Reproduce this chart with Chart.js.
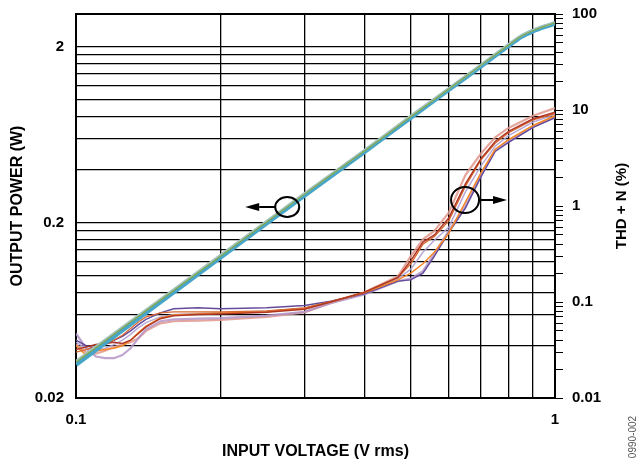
<!DOCTYPE html>
<html>
<head>
<meta charset="utf-8">
<title>Output Power and THD + N vs Input Voltage</title>
<script src="https://cdn.jsdelivr.net/npm/chart.js@4.4.0/dist/chart.umd.min.js"></script>
<style>
  html, body { margin: 0; padding: 0; background: #fff; }
  #wrap { width: 638px; height: 463px; }
</style>
</head>
<body>
<div id="wrap"><canvas id="chart" width="638" height="463"></canvas></div>
<script>
// output power (W)
const powerVoltage = [0.1, 0.2, 0.3, 0.4, 0.5, 0.6, 0.7, 0.8, 0.85, 0.9, 0.95, 1.0];
const powerA = [0.032, 0.128, 0.290, 0.510, 0.800, 1.150, 1.570, 2.050, 2.300, 2.480, 2.620, 2.740];
const powerB = [0.031, 0.126, 0.285, 0.505, 0.790, 1.140, 1.550, 2.030, 2.280, 2.460, 2.600, 2.720];
const powerC = [0.0325, 0.130, 0.293, 0.515, 0.810, 1.160, 1.580, 2.070, 2.320, 2.500, 2.640, 2.760];

// THD + N (%)
const thdVoltage = [0.1, 0.105, 0.11, 0.115, 0.12, 0.125, 0.13, 0.135, 0.14, 0.15, 0.16, 0.18, 0.2, 0.25,
                    0.3, 0.34, 0.4, 0.47, 0.5, 0.53, 0.56, 0.6, 0.65, 0.7, 0.75, 0.8, 0.9, 1.0];
const thdRed = [0.032, 0.034, 0.036, 0.037, 0.038, 0.037, 0.040, 0.047, 0.055, 0.067, 0.072, 0.074, 0.075, 0.078,
                0.084, 0.100, 0.126, 0.180, 0.270, 0.420, 0.500, 0.750, 1.700, 3.100, 4.700, 6.000, 8.100, 9.500];
const thdSalmon = [0.036, 0.030, 0.029, 0.031, 0.034, 0.036, 0.038, 0.042, 0.050, 0.060, 0.063, 0.064, 0.065, 0.070,
                   0.078, 0.098, 0.126, 0.185, 0.300, 0.450, 0.550, 0.850, 2.100, 3.500, 5.200, 6.500, 8.700, 10.50];
const thdLilac = [0.038, 0.033, 0.031, 0.033, 0.036, 0.040, 0.046, 0.054, 0.061, 0.070, 0.074, 0.076, 0.077, 0.080,
                  0.086, 0.100, 0.124, 0.175, 0.220, 0.330, 0.440, 0.600, 1.400, 2.600, 4.200, 5.400, 7.500, 9.000];
const thdOrange = [0.035, 0.028, 0.031, 0.032, 0.033, 0.035, 0.040, 0.048, 0.056, 0.068, 0.073, 0.075, 0.077, 0.079,
                   0.086, 0.100, 0.125, 0.170, 0.200, 0.250, 0.330, 0.520, 1.100, 2.200, 3.900, 4.900, 6.900, 8.700];
const thdPurple = [0.040, 0.035, 0.033, 0.036, 0.040, 0.044, 0.050, 0.058, 0.066, 0.077, 0.085, 0.087, 0.085, 0.087,
                   0.092, 0.102, 0.122, 0.165, 0.170, 0.200, 0.300, 0.530, 0.950, 2.000, 3.700, 4.600, 6.600, 8.300];
const thdRust = [0.030, 0.032, 0.034, 0.036, 0.040, 0.045, 0.053, 0.062, 0.070, 0.077, 0.079, 0.079, 0.079, 0.081,
                 0.087, 0.101, 0.127, 0.180, 0.250, 0.400, 0.480, 0.700, 1.600, 3.000, 4.500, 5.800, 7.900, 9.200];
const thdLavender = [0.047, 0.033, 0.027, 0.026, 0.026, 0.028, 0.033, 0.042, 0.052, 0.063, 0.066, 0.067, 0.068, 0.072,
                     0.079, 0.097, 0.120, 0.165, 0.175, 0.210, 0.320, 0.550, 1.000, 2.100, 3.800, 4.700, 6.700, 8.400];

// axes
const xGridValues = [0.1, 0.2, 0.3, 0.4, 0.5, 0.6, 0.7, 0.8, 0.9, 1];
const xLabels = [0.1, 1];
const leftGridValues = [0.02, 0.04, 0.06, 0.08, 0.1, 0.12, 0.14, 0.16, 0.18, 0.2,
                        0.4, 0.6, 0.8, 1, 1.2, 1.4, 1.6, 1.8, 2];
const leftLabels = [0.02, 0.2, 2];
const rightLabels = [0.01, 0.1, 1, 10, 100];
const rightSteps = [1, 2, 3, 4, 5, 6, 7, 8, 9];

// circle + arrow markers: which axis the curve belongs to
const markers = [
    { x: 0.276, y: 0.245, axis: 'yL', tipX: 0.2255 },
    { x: 0.649, y: 1.155, axis: 'yR', tipX: 0.794 }
];

const FONT = '"Liberation Sans", Arial, Helvetica, sans-serif';

function pairs(xs, ys) {
    return xs.map((x, i) => ({ x: x, y: ys[i] }));
}

let rightTickValues = [];
for (let i = 0; i < rightLabels.length - 1; i++) {
    for (let j = 0; j < rightSteps.length; j++) {
        rightTickValues.push(+(rightLabels[i] * rightSteps[j]).toPrecision(3));
    }
}
rightTickValues.push(rightLabels[rightLabels.length - 1]);

function powerSet(values, color, width) {
    return {
        data: pairs(powerVoltage, values), yAxisID: 'yL',
        borderColor: color, borderWidth: width,
        pointRadius: 0, tension: 0.2, fill: false
    };
}

function thdSet(values, color, width) {
    return {
        data: pairs(thdVoltage, values), yAxisID: 'yR',
        borderColor: color, borderWidth: width,
        pointRadius: 0, tension: 0, fill: false
    };
}

const data = {
    datasets: [
        powerSet(powerA, 'rgb(125, 165, 75)', 1.2),
        powerSet(powerC, 'rgb(165, 195, 190)', 2.5),
        powerSet(powerB, 'rgb(70, 165, 200)', 4.5),
        thdSet(thdRed, 'rgb(175, 55, 35)', 1.5),
        thdSet(thdRust, 'rgb(215, 105, 50)', 1.3),
        thdSet(thdOrange, 'rgb(245, 135, 40)', 1.5),
        thdSet(thdPurple, 'rgb(100, 75, 155)', 1.5),
        thdSet(thdLilac, 'rgba(175, 160, 210, 0.9)', 1.5),
        thdSet(thdLavender, 'rgba(180, 150, 200, 0.85)', 2.2),
        thdSet(thdSalmon, 'rgba(225, 150, 140, 0.85)', 2.2)
    ]
};

const extras = {
    id: 'extras',
    beforeDatasetsDraw: (chart) => {
        const ctx = chart.ctx;
        const a = chart.chartArea;
        ctx.save();
        ctx.strokeStyle = '#000';
        ctx.lineWidth = 2;
        ctx.strokeRect(a.left, a.top, a.right - a.left, a.bottom - a.top);
        ctx.restore();
    },
    afterDatasetsDraw: (chart) => {
        const ctx = chart.ctx;
        const xs = chart.scales.x;
        ctx.save();
        ctx.strokeStyle = '#000';
        ctx.fillStyle = '#000';
        ctx.lineWidth = 2;
        markers.forEach((m, i) => {
            const cx = xs.getPixelForValue(m.x);
            const cy = chart.scales[m.axis].getPixelForValue(m.y);
            const tip = xs.getPixelForValue(m.tipX);
            const rx = i == 0 ? 12 : 14;
            const ry = i == 0 ? 10 : 13;
            const dir = tip < cx ? -1 : 1;
            const head = 14;
            ctx.beginPath();
            ctx.ellipse(cx, cy, rx, ry, 0, 0, Math.PI * 2);
            ctx.stroke();
            ctx.beginPath();
            ctx.moveTo(cx + dir * rx, cy);
            ctx.lineTo(tip - dir * head, cy);
            ctx.stroke();
            ctx.beginPath();
            ctx.moveTo(tip, cy);
            ctx.lineTo(tip - dir * head, cy - 4);
            ctx.lineTo(tip - dir * head, cy + 4);
            ctx.closePath();
            ctx.fill();
        });
        ctx.restore();
    },
    afterDraw: (chart) => {
        const ctx = chart.ctx;
        const a = chart.chartArea;
        ctx.save();
        // right axis title reads bottom-to-top
        ctx.translate(chart.width - 16, (a.top + a.bottom) / 2);
        ctx.rotate(-Math.PI / 2);
        ctx.font = 'bold 15px ' + FONT;
        ctx.fillStyle = '#000';
        ctx.textAlign = 'center';
        ctx.textBaseline = 'middle';
        ctx.fillText('THD + N (%)', 0, 0);
        ctx.restore();

        ctx.save();
        ctx.translate(chart.width - 5, chart.height - 26);
        ctx.rotate(-Math.PI / 2);
        ctx.font = '10px ' + FONT;
        ctx.fillStyle = '#555';
        ctx.textAlign = 'center';
        ctx.textBaseline = 'middle';
        ctx.fillText('0990-002', 0, 0);
        ctx.restore();
    }
};

const tickFont = { family: FONT, size: 15, weight: 'bold' };
const titleFont = { family: FONT, size: 16, weight: 'bold' };

function noPadY(width) {
    return (s) => { s.width = width; s.paddingTop = 0; s.paddingBottom = 0; };
}

const config = {
    type: 'line',
    data: data,
    options: {
        responsive: false,
        animation: false,
        layout: { padding: { top: 14, left: 0, right: 0, bottom: 0 } },
        plugins: {
            legend: { display: false },
            tooltip: { enabled: false }
        },
        scales: {
            x: {
                type: 'logarithmic', position: 'bottom',
                min: 0.1, max: 1, bounds: 'data',
                afterBuildTicks: (s) => { s.ticks = xGridValues.map(v => ({ value: v })); },
                afterFit: (s) => { s.height = 65; s.paddingLeft = 0; s.paddingRight = 0; },
                ticks: {
                    autoSkip: false, maxRotation: 0, color: '#000', font: tickFont, padding: 13,
                    callback: (v) => xLabels.includes(v) ? String(v) : ''
                },
                grid: { color: '#000', lineWidth: 1.3, drawTicks: false },
                border: { display: true, color: '#000', width: 2 },
                title: {
                    display: true, text: 'INPUT VOLTAGE (V rms)', color: '#000',
                    font: titleFont, padding: { top: 0, bottom: 2 }
                }
            },
            yL: {
                type: 'logarithmic', position: 'left',
                min: 0.02, max: 3.08, bounds: 'data',
                afterBuildTicks: (s) => { s.ticks = leftGridValues.map(v => ({ value: v })); },
                afterFit: noPadY(76),
                ticks: {
                    autoSkip: false, color: '#000', font: tickFont, padding: 12,
                    callback: (v) => leftLabels.includes(v) ? String(v) : ''
                },
                grid: { color: '#000', lineWidth: 1.3, drawTicks: false },
                border: { display: true, color: '#000', width: 2 },
                title: {
                    display: true, text: 'OUTPUT POWER (W)', color: '#000',
                    font: titleFont, padding: { top: 8, bottom: 0 }
                }
            },
            yR: {
                type: 'logarithmic', position: 'right',
                min: 0.01, max: 100, bounds: 'data',
                afterBuildTicks: (s) => { s.ticks = rightTickValues.map(v => ({ value: v })); },
                afterFit: noPadY(83),
                ticks: {
                    autoSkip: false, color: '#000', font: tickFont, padding: 9,
                    callback: (v) => rightLabels.includes(v) ? String(v) : ''
                },
                grid: {
                    drawOnChartArea: false, drawTicks: true, tickLength: 8,
                    color: '#000', tickColor: '#000', lineWidth: 1
                },
                border: { display: true, color: '#000', width: 2 }
            }
        }
    },
    plugins: [extras]
};

let chart = new Chart(document.getElementById('chart'), config);
</script>
</body>
</html>
